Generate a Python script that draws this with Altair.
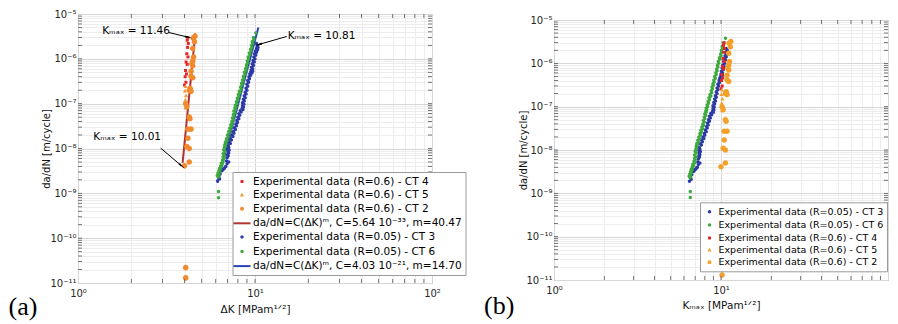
import altair as alt
import pandas as pd

FONT = "DejaVu Sans"

# ---------------- series names ----------------
CT4 = "Experimental data (R=0.6) - CT 4"
CT5 = "Experimental data (R=0.6) - CT 5"
CT2 = "Experimental data (R=0.6) - CT 2"
FIT_HI = "da/dN=C(ΔK)ᵐ, C=5.64 10⁻³³, m=40.47"
CT3 = "Experimental data (R=0.05) - CT 3"
CT6 = "Experimental data (R=0.05) - CT 6"
FIT_LO = "da/dN=C(ΔK)ᵐ, C=4.03 10⁻²¹, m=14.70"

# ---------------- data (ΔK [MPa m^1/2], da/dN [m/cycle]) ----------------
ct4_dk = [4.18, 4.14, 4.20, 4.16, 4.12, 4.18, 4.08, 4.14, 4.05, 4.10, 4.03, 4.07, 4.00]
ct4_rate = [3.0e-6, 2.6e-6, 2.2e-6, 1.8e-6, 1.3e-6, 1.1e-6, 8.5e-7, 7.5e-7, 5.5e-7, 4.6e-7, 4.0e-7, 3.0e-7, 2.6e-7]

ct5_dk = [4.05, 4.02, 4.08, 4.04, 4.10, 4.06]
ct5_rate = [2.4e-7, 1.9e-7, 1.5e-7, 1.2e-7, 9.5e-8, 8.0e-8]

ct2_dk = [4.58, 4.48, 4.55, 4.45, 4.50, 4.45, 4.40, 4.45, 4.35, 4.35, 4.45, 4.25, 4.35, 4.30,
          4.06, 4.12, 4.25, 4.29, 4.18, 4.35, 4.18, 4.12, 4.25, 4.25, 4.00, 4.06, 4.06]
ct2_rate = [3.2e-6, 2.9e-6, 2.4e-6, 1.7e-6, 1.1e-6, 9.0e-7, 7.8e-7, 7.0e-7, 5.3e-7, 4.1e-7, 3.8e-7, 2.0e-7, 1.9e-7, 2.2e-7,
            1.0e-7, 8.5e-8, 5.0e-8, 4.6e-8, 2.7e-8, 2.7e-8, 1.7e-8, 1.1e-8, 1.0e-8, 5.0e-9, 4.1e-9, 2.2e-11, 1.3e-11]

ct3_dk = [6.15, 6.25, 6.35, 6.5, 6.7, 6.85, 6.95, 6.9, 6.95, 7.0, 7.05, 7.0, 7.05, 7.15, 7.25, 7.4, 7.55, 7.65,
          7.8, 7.9, 8.0, 8.1, 8.25, 8.45, 8.5, 8.5, 8.6, 8.7, 8.8, 8.9, 9.0, 9.1, 9.25, 9.35, 9.45, 9.5, 9.55,
          9.65, 9.75, 9.85, 9.95, 10.05, 10.2, 10.3, 10.2,
          6.3, 6.6, 6.8, 7.1, 7.05, 7.1, 7.15, 7.1, 7.25, 7.35, 7.5, 7.6, 7.75, 7.85, 7.95, 8.1, 8.2, 8.35,
          8.55, 8.6, 8.65, 8.7, 8.8, 8.9, 9.0, 9.1, 9.2, 9.3, 9.45, 9.6, 9.7, 9.7, 9.8, 9.9, 10.0, 10.1,
          10.2, 10.35, 10.4, 10.35]
ct3_rate = [1.9e-9, 2.3e-9, 2.7e-9, 3.2e-9, 3.6e-9, 4.0e-9, 4.6e-9, 5.3e-9, 6.2e-9, 7.3e-9, 8.5e-9, 9.8e-9, 1.15e-8,
            1.4e-8, 1.7e-8, 2.0e-8, 2.4e-8, 2.9e-8, 3.5e-8, 4.2e-8, 5.0e-8, 6.0e-8, 7.0e-8, 7.8e-8, 9.0e-8, 1.05e-7,
            1.25e-7, 1.5e-7, 1.8e-7, 2.2e-7, 2.7e-7, 3.3e-7, 4.0e-7, 4.6e-7, 5.0e-7, 5.6e-7, 6.5e-7, 7.8e-7, 9.2e-7,
            1.1e-6, 1.3e-6, 1.5e-6, 1.7e-6, 1.9e-6, 2.2e-6,
            2.1e-9, 3.4e-9, 3.9e-9, 5.0e-9, 6.8e-9, 7.9e-9, 9.2e-9, 1.05e-8, 1.3e-8, 1.55e-8, 1.85e-8, 2.2e-8,
            2.65e-8, 3.2e-8, 3.8e-8, 4.6e-8, 5.5e-8, 6.5e-8, 7.4e-8, 8.4e-8, 9.7e-8, 1.15e-7, 1.35e-7, 1.65e-7,
            2.0e-7, 2.45e-7, 3.0e-7, 3.6e-7, 4.3e-7, 4.8e-7, 5.3e-7, 6.0e-7, 7.1e-7, 8.5e-7, 1.0e-6, 1.2e-6,
            1.4e-6, 1.6e-6, 1.8e-6, 2.0e-6]

ct6_dk = [6.22, 6.22, 6.2, 6.25, 6.3, 6.35, 6.4, 6.5, 6.6, 6.65, 6.7, 6.75, 6.7, 6.8, 6.85, 6.95, 7.05, 7.15,
          7.25, 7.35, 7.45, 7.55, 7.6, 7.7, 7.75, 7.8, 7.9, 8.0, 8.1, 8.25, 8.35, 8.45, 8.55, 8.65, 8.8, 8.9,
          9.0, 9.1, 9.2, 9.35, 9.5, 9.6, 9.7, 9.85, 10.1,
          6.12, 6.18, 6.25, 6.3, 6.4, 6.45, 6.55, 6.6, 6.6, 6.65, 6.75, 6.75, 6.8, 6.9, 7.0, 7.1, 7.2, 7.3,
          7.4, 7.45, 7.55, 7.6, 7.7, 7.75, 7.85, 7.95, 8.05, 8.15, 8.3, 8.4, 8.5, 8.6, 8.7, 8.85, 8.95, 9.05,
          9.15, 9.3, 9.45, 9.55, 9.65, 9.8]
ct6_rate = [8.0e-10, 1.1e-9, 2.3e-9, 2.6e-9, 3.0e-9, 3.4e-9, 3.8e-9, 4.3e-9, 5.0e-9, 6.0e-9, 7.0e-9, 8.5e-9, 1.0e-8,
            1.15e-8, 1.3e-8, 1.5e-8, 1.8e-8, 2.2e-8, 2.6e-8, 3.1e-8, 3.7e-8, 4.4e-8, 5.3e-8, 6.3e-8, 7.5e-8, 8.5e-8,
            1.0e-7, 1.2e-7, 1.45e-7, 1.75e-7, 2.1e-7, 2.6e-7, 3.1e-7, 3.7e-7, 4.5e-7, 5.5e-7, 6.7e-7, 8.2e-7, 1.0e-6,
            1.25e-6, 1.5e-6, 1.8e-6, 2.2e-6, 2.7e-6, 3.8e-6,
            2.5e-9, 2.8e-9, 3.2e-9, 3.6e-9, 4.1e-9, 4.7e-9, 5.5e-9, 6.5e-9, 7.7e-9, 9.2e-9, 1.08e-8, 1.22e-8,
            1.4e-8, 1.65e-8, 2.0e-8, 2.4e-8, 2.85e-8, 3.4e-8, 4.0e-8, 4.8e-8, 5.8e-8, 6.9e-8, 8.0e-8, 9.2e-8,
            1.1e-7, 1.32e-7, 1.6e-7, 1.9e-7, 2.35e-7, 2.85e-7, 3.4e-7, 4.1e-7, 5.0e-7, 6.1e-7, 7.4e-7, 9.0e-7,
            1.1e-6, 1.35e-6, 1.65e-6, 2.0e-6, 2.45e-6, 3.0e-6]

# fitted Paris-law lines (end points)
fit_hi_dk = [3.9, 4.6]
fit_hi_rate = [4.8e-9, 3.7e-6]
fit_lo_dk = [6.13, 10.45]
fit_lo_rate = [1.7e-9, 5.0e-6]

# annotations of panel (a)
ann_text = ["Kₘₐₓ = 11.46", "Kₘₐₓ = 10.81", "Kₘₐₓ = 10.01"]
ann_x = [1.37, 15.3, 1.22]
ann_y = [4.2e-6, 3.2e-6, 1.8e-8]
arrow_x0 = [3.25, 15.11, 2.93]
arrow_y0 = [3.87e-6, 3.15e-6, 1.02e-8]
arrow_x1 = [4.15, 10.59, 3.82]
arrow_y1 = [3.07e-6, 2.11e-6, 4.2e-9]
arrow_angle = [104, 254, 131]

# axis ticks
x_decades = [1, 10, 100]
x_decade_labels = ["10⁰", "10¹", "10²"]
y_decades = [1e-11, 1e-10, 1e-9, 1e-8, 1e-7, 1e-6, 1e-5]
y_decade_labels = ["10⁻¹¹", "10⁻¹⁰", "10⁻⁹", "10⁻⁸", "10⁻⁷", "10⁻⁶", "10⁻⁵"]
x_minor = [m * d for d in x_decades[:-1] for m in range(2, 10)]
y_minor = [m * d for d in y_decades[:-1] for m in range(2, 10)]
x_all = sorted(x_decades + x_minor)
y_all = sorted(y_decades + y_minor)

# ---------------- tables ----------------
def rows(name, xs, ys, r):
    return [{"series": name, "xv": a, "yv": b, "R": r} for a, b in zip(xs, ys)]

small_pts = pd.DataFrame(rows(CT3, ct3_dk, ct3_rate, 0.05) + rows(CT6, ct6_dk, ct6_rate, 0.05)
                         + rows(CT4, ct4_dk, ct4_rate, 0.6) + rows(CT5, ct5_dk, ct5_rate, 0.6))
big_pts = pd.DataFrame(rows(CT2, ct2_dk, ct2_rate, 0.6))
fit_hi = pd.DataFrame({"xv": fit_hi_dk, "yv": fit_hi_rate})
fit_lo = pd.DataFrame({"xv": fit_lo_dk, "yv": fit_lo_rate})
ann = pd.DataFrame({"t": ann_text, "xv": ann_x, "yv": ann_y})
arrows = pd.DataFrame({"xv": arrow_x0, "yv": arrow_y0, "xv2": arrow_x1, "yv2": arrow_y1, "ang": arrow_angle})
x_ticks_df = pd.DataFrame({"xv": [v for v in x_all if 1 < v < 100]})
y_ticks_df = pd.DataFrame({"yv": [v for v in y_all if 1e-11 < v < 1e-5]})

# ---------------- styling helpers ----------------
W_A, H_A = 354, 269
W_B, H_B = 334, 260


def label_expr(vals, labs):
    s = ""
    for v, l in zip(vals, labs):
        s += f"datum.value == {v!r} ? '{l}' : "
    return s + "''"


def grid_color(vals):
    return {"condition": {"test": f"indexof({list(vals)!r}, datum.value) >= 0", "value": "#d6d6d6"},
            "value": "#ededed"}


def x_axis(title, title_y, labelled):
    return alt.Axis(values=x_all, labelExpr=label_expr(labelled, [x_decade_labels[x_decades.index(v)] for v in labelled]),
                    grid=True, gridColor=grid_color(x_decades), ticks=False, domain=False,
                    labelOverlap=False, labelFlush=False, labelFont=FONT, labelFontSize=10,
                    labelColor="#262626", labelPadding=5, title=title, titleFont=FONT, titleFontSize=10.5,
                    titleFontWeight="normal", titleColor="#111111", titleY=title_y, titleBaseline="middle")


def y_axis(title, title_x, title_y):
    return alt.Axis(values=y_all, labelExpr=label_expr(y_decades, y_decade_labels),
                    grid=True, gridColor=grid_color(y_decades), ticks=False, domain=False,
                    labelOverlap=False, labelFont=FONT, labelFontSize=10, labelColor="#262626",
                    labelPadding=2, title=title, titleFont=FONT, titleFontSize=10, titleFontWeight="normal",
                    titleColor="#111111", titleX=title_x, titleY=title_y, titleAngle=270,
                    titleBaseline="middle", titleAlign="center")


XS = alt.Scale(type="log", domain=[1, 100], nice=False)
YS = alt.Scale(type="log", domain=[1e-11, 1e-5], nice=False)


def circ(r):
    return f"M{r},0A{r},{r},0,1,1,{-r},0A{r},{r},0,1,1,{r},0Z"


SQ = "M-0.27,-0.27L0.27,-0.27L0.27,0.27L-0.27,0.27Z"
TRI = "M0,-0.42L0.38,0.26L-0.38,0.26Z"
CIRC = circ(0.36)
DOT = circ(0.31)
LINE = "M-1.55,0L1.55,0"

STYLE = {
    CT4: ("#e4262b", "transparent", SQ),
    CT5: ("#f29b38", "transparent", TRI),
    CT2: ("#f08a2c", "transparent", CIRC),
    FIT_HI: ("#b03430", "#b03430", LINE),
    CT3: ("#2b3aa6", "transparent", DOT),
    CT6: ("#3daa3d", "transparent", DOT),
    FIT_LO: ("#2b45b5", "#2b45b5", LINE),
}
STYLE_B = dict(STYLE)
STYLE_B[CT5] = ("#f0a234", "transparent", TRI)
STYLE_B[CT2] = ("#f4a12a", "transparent", CIRC)


def legend(x, y, font_size, row_pad, offset):
    return alt.Legend(title=None, orient="none", legendX=x, legendY=y, direction="vertical", padding=3,
                      symbolSize=121, symbolStrokeWidth=2, symbolOpacity=1, labelFont=FONT,
                      labelFontSize=font_size, labelColor="black", labelOffset=offset, labelLimit=400,
                      rowPadding=row_pad, strokeColor="#9a9a9a", fillColor="white")


def point_encodings(domain, leg, style):
    fills = [style[s][0] for s in domain]
    strokes = [style[s][1] for s in domain]
    shapes = [style[s][2] for s in domain]
    return dict(
        fill=alt.Fill("series:N", scale=alt.Scale(domain=domain, range=fills), legend=leg),
        stroke=alt.Stroke("series:N", scale=alt.Scale(domain=domain, range=strokes), legend=leg),
        shape=alt.Shape("series:N", scale=alt.Scale(domain=domain, range=shapes), legend=leg),
    )


def frame_ticks(xe, ye, w, h):
    """Small inward tick marks on the four sides of the box, at the axis tick values."""
    tick = dict(color="#555555", opacity=1, thickness=0.8, size=4)
    top = alt.Chart(x_ticks_df).mark_tick(**tick).encode(x=xe("xv"), y=alt.value(2))
    bottom = alt.Chart(x_ticks_df).mark_tick(**tick).encode(x=xe("xv"), y=alt.value(h - 2))
    left = alt.Chart(y_ticks_df).mark_tick(**tick).encode(y=ye("yv"), x=alt.value(2))
    right = alt.Chart(y_ticks_df).mark_tick(**tick).encode(y=ye("yv"), x=alt.value(w - 2))
    return [top, bottom, left, right]


# ---------------- panel (a) ----------------
xa = lambda f: alt.X(f, type="quantitative", scale=XS, axis=x_axis("ΔK [MPam¹ᐟ²]", 26, x_decades))
ya = lambda f: alt.Y(f, type="quantitative", scale=YS, axis=y_axis("da/dN [m/cycle]", -32, H_A / 2))

dom_a = [CT4, CT5, CT2, FIT_HI, CT3, CT6, FIT_LO]
enc_a = point_encodings(dom_a, legend(154.5, 158, 10.5, 1.6, 4.5), STYLE)

a_small = alt.Chart(small_pts).mark_point(filled=True, opacity=1, size=121).encode(x=xa("xv"), y=ya("yv"), **enc_a)
a_big = alt.Chart(big_pts).mark_point(filled=True, opacity=1, size=240).encode(x=xa("xv"), y=ya("yv"), **enc_a)
a_fit_hi = alt.Chart(fit_hi).mark_line(color=STYLE[FIT_HI][1], strokeWidth=2).encode(x=xa("xv"), y=ya("yv"))
a_fit_lo = alt.Chart(fit_lo).mark_line(color=STYLE[FIT_LO][1], strokeWidth=2).encode(x=xa("xv"), y=ya("yv"))
a_rule = alt.Chart(arrows).mark_rule(color="black", strokeWidth=1).encode(
    x=xa("xv"), y=ya("yv"), x2=alt.X2("xv2"), y2=alt.Y2("yv2"))
a_head = alt.Chart(arrows).mark_point(shape="wedge", filled=True, opacity=1, size=70, color="black").encode(
    x=xa("xv2"), y=ya("yv2"), angle=alt.Angle("ang:Q", scale=None))
a_text = alt.Chart(ann).mark_text(align="left", baseline="middle", font=FONT, fontSize=10.5, color="black").encode(
    x=xa("xv"), y=ya("yv"), text="t:N")
a_tag = alt.Chart(pd.DataFrame({"t": ["(a)"]})).mark_text(
    align="left", baseline="alphabetic", font="Liberation Serif", fontSize=26, color="black").encode(
    x=alt.value(-69.5), y=alt.value(H_A + 32), text="t:N")

panel_a = alt.layer(a_fit_hi, a_fit_lo, a_small, a_big, *frame_ticks(xa, ya, W_A, H_A),
                    a_rule, a_head, a_text, a_tag).properties(
    width=W_A, height=H_A, view=alt.ViewBackground(stroke="#a3a3a3", strokeWidth=1))

# ---------------- panel (b) ----------------
# the 10² label of panel (b) falls outside the picture in the original, so it is not written
xb = lambda f: alt.X(f, type="quantitative", scale=XS, axis=x_axis("Kₘₐₓ [MPam¹ᐟ²]", 25, [1, 10]))
yb = lambda f: alt.Y(f, type="quantitative", scale=YS, axis=y_axis("da/dN [m/cycle]", -31, H_B / 2))

dom_b = [CT3, CT6, CT4, CT5, CT2]
enc_b = point_encodings(dom_b, legend(146, 188.3, 9.5, 0.1, 2.5), STYLE_B)
KMAX = "datum.xv / (1 - datum.R)"

b_small = alt.Chart(small_pts).transform_calculate(kmax=KMAX).mark_point(
    filled=True, opacity=1, size=121).encode(x=xb("kmax"), y=yb("yv"), **enc_b)
b_big = alt.Chart(big_pts).transform_calculate(kmax=KMAX).mark_point(
    filled=True, opacity=1, size=240).encode(x=xb("kmax"), y=yb("yv"), **enc_b)
b_tag = alt.Chart(pd.DataFrame({"t": ["(b)"]})).mark_text(
    align="left", baseline="alphabetic", font="Liberation Serif", fontSize=26, color="black").encode(
    x=alt.value(-70), y=alt.value(H_B + 34), text="t:N")

panel_b = alt.layer(b_small, b_big, *frame_ticks(xb, yb, W_B, H_B), b_tag).properties(
    width=W_B, height=H_B, view=alt.ViewBackground(stroke="#a3a3a3", strokeWidth=1))

spacer = alt.Chart(pd.DataFrame({"t": [""]})).mark_text().encode(
    x=alt.value(0), y=alt.value(0), text="t:N").properties(width=W_B, height=1,
                                                           view=alt.ViewBackground(stroke=None))

right = alt.vconcat(spacer, panel_b, spacing=-5)

chart = alt.hconcat(panel_a, right, spacing=16).resolve_scale(
    x="independent", y="independent", fill="independent", stroke="independent", shape="independent"
).resolve_legend(fill="independent", stroke="independent", shape="independent").properties(
    padding=0, background="white"
).configure(font=FONT).configure_view(stroke=None)

chart.save("out.html", embed_options={"renderer": "svg", "actions": False})
